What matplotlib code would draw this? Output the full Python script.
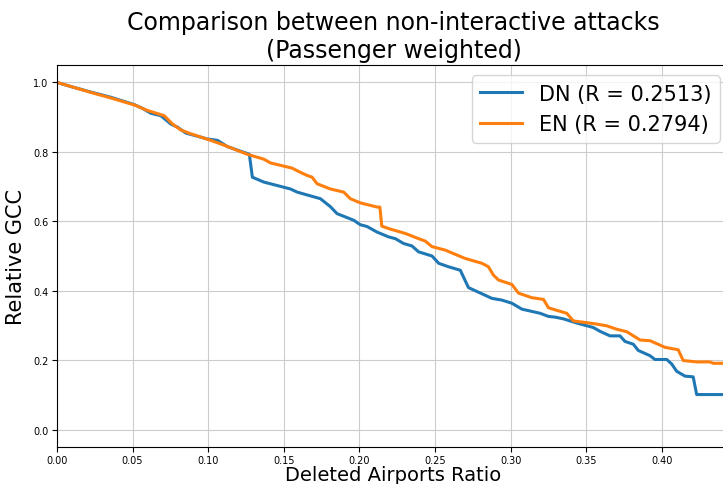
import matplotlib

matplotlib.use("Agg")
import matplotlib.pyplot as plt

# Fraction of airports removed vs. relative size of the giant connected component
DN_RATIO = [
    0.0000, 0.0092, 0.0225, 0.0357, 0.0511, 0.0566, 0.0621, 0.0687, 0.0753, 0.0797,
    0.0852, 0.0995, 0.1061, 0.1127, 0.1272, 0.1292, 0.1367, 0.1544, 0.1588, 0.1742,
    0.1808, 0.1852, 0.1962, 0.2006, 0.2050, 0.2116, 0.2193, 0.2237, 0.2292, 0.2347,
    0.2391, 0.2480, 0.2524, 0.2589, 0.2667, 0.2721, 0.2876, 0.2942, 0.3008, 0.3074,
    0.3195, 0.3250, 0.3294, 0.3349, 0.3437, 0.3547, 0.3591, 0.3657, 0.3723, 0.3756,
    0.3811, 0.3844, 0.3921, 0.3954, 0.4032, 0.4065, 0.4098, 0.4153, 0.4207, 0.4230,
    0.4450,
]
DN_GCC = [
    1.000, 0.988, 0.972, 0.957, 0.936, 0.925, 0.911, 0.904, 0.880, 0.871,
    0.854, 0.837, 0.833, 0.815, 0.793, 0.727, 0.713, 0.693, 0.684, 0.665,
    0.642, 0.622, 0.603, 0.590, 0.585, 0.569, 0.555, 0.550, 0.536, 0.529,
    0.512, 0.500, 0.479, 0.469, 0.459, 0.409, 0.378, 0.373, 0.364, 0.347,
    0.335, 0.326, 0.324, 0.319, 0.307, 0.294, 0.283, 0.270, 0.270, 0.254,
    0.246, 0.228, 0.213, 0.202, 0.202, 0.189, 0.168, 0.154, 0.152, 0.101,
    0.101,
]

EN_RATIO = [
    0.0000, 0.0092, 0.0225, 0.0357, 0.0511, 0.0599, 0.0709, 0.0764, 0.0819, 0.0885,
    0.1017, 0.1106, 0.1258, 0.1367, 0.1412, 0.1555, 0.1609, 0.1654, 0.1687, 0.1720,
    0.1808, 0.1896, 0.1940, 0.2006, 0.2116, 0.2135, 0.2148, 0.2193, 0.2303, 0.2391,
    0.2435, 0.2480, 0.2567, 0.2699, 0.2810, 0.2853, 0.2886, 0.2919, 0.3008, 0.3052,
    0.3140, 0.3217, 0.3250, 0.3294, 0.3371, 0.3415, 0.3503, 0.3569, 0.3635, 0.3702,
    0.3768, 0.3801, 0.3856, 0.3922, 0.4021, 0.4108, 0.4141, 0.4230, 0.4318, 0.4340,
    0.4450,
]
EN_GCC = [
    1.000, 0.988, 0.971, 0.955, 0.935, 0.919, 0.904, 0.880, 0.863, 0.852,
    0.833, 0.819, 0.793, 0.779, 0.768, 0.753, 0.741, 0.732, 0.727, 0.708,
    0.693, 0.684, 0.665, 0.653, 0.641, 0.641, 0.586, 0.579, 0.565, 0.550,
    0.543, 0.527, 0.517, 0.493, 0.479, 0.469, 0.445, 0.431, 0.418, 0.393,
    0.380, 0.375, 0.351, 0.345, 0.335, 0.313, 0.308, 0.304, 0.299, 0.289,
    0.282, 0.273, 0.258, 0.256, 0.237, 0.230, 0.199, 0.195, 0.195, 0.191,
    0.191,
]

DN_R = 0.2513
EN_R = 0.2794

fig = plt.figure(figsize=(7.23, 4.85), dpi=100)
ax = fig.add_axes([0.0788, 0.0763, 0.9308, 0.7876])

ax.plot(DN_RATIO, DN_GCC, color="tab:blue", linewidth=2.2, label=f"DN (R = {DN_R})")
ax.plot(EN_RATIO, EN_GCC, color="tab:orange", linewidth=2.2, label=f"EN (R = {EN_R})")

ax.set_xlim(0, 0.445)
ax.set_ylim(-0.05, 1.05)
ax.set_xticks([0.0, 0.05, 0.10, 0.15, 0.20, 0.25, 0.30, 0.35, 0.40])
ax.xaxis.set_major_formatter(matplotlib.ticker.FormatStrFormatter("%.2f"))
ax.tick_params(labelsize=7, pad=2.5)
ax.grid(True, color="#cccccc")

ax.set_title("Comparison between non-interactive attacks\n(Passenger weighted)", fontsize=17)
ax.set_xlabel("Deleted Airports Ratio", fontsize=14, labelpad=0)
ax.set_ylabel("Relative GCC", fontsize=15, labelpad=5)
ax.legend(loc="upper right", fontsize=15)

fig.savefig("out.png", dpi=100)
